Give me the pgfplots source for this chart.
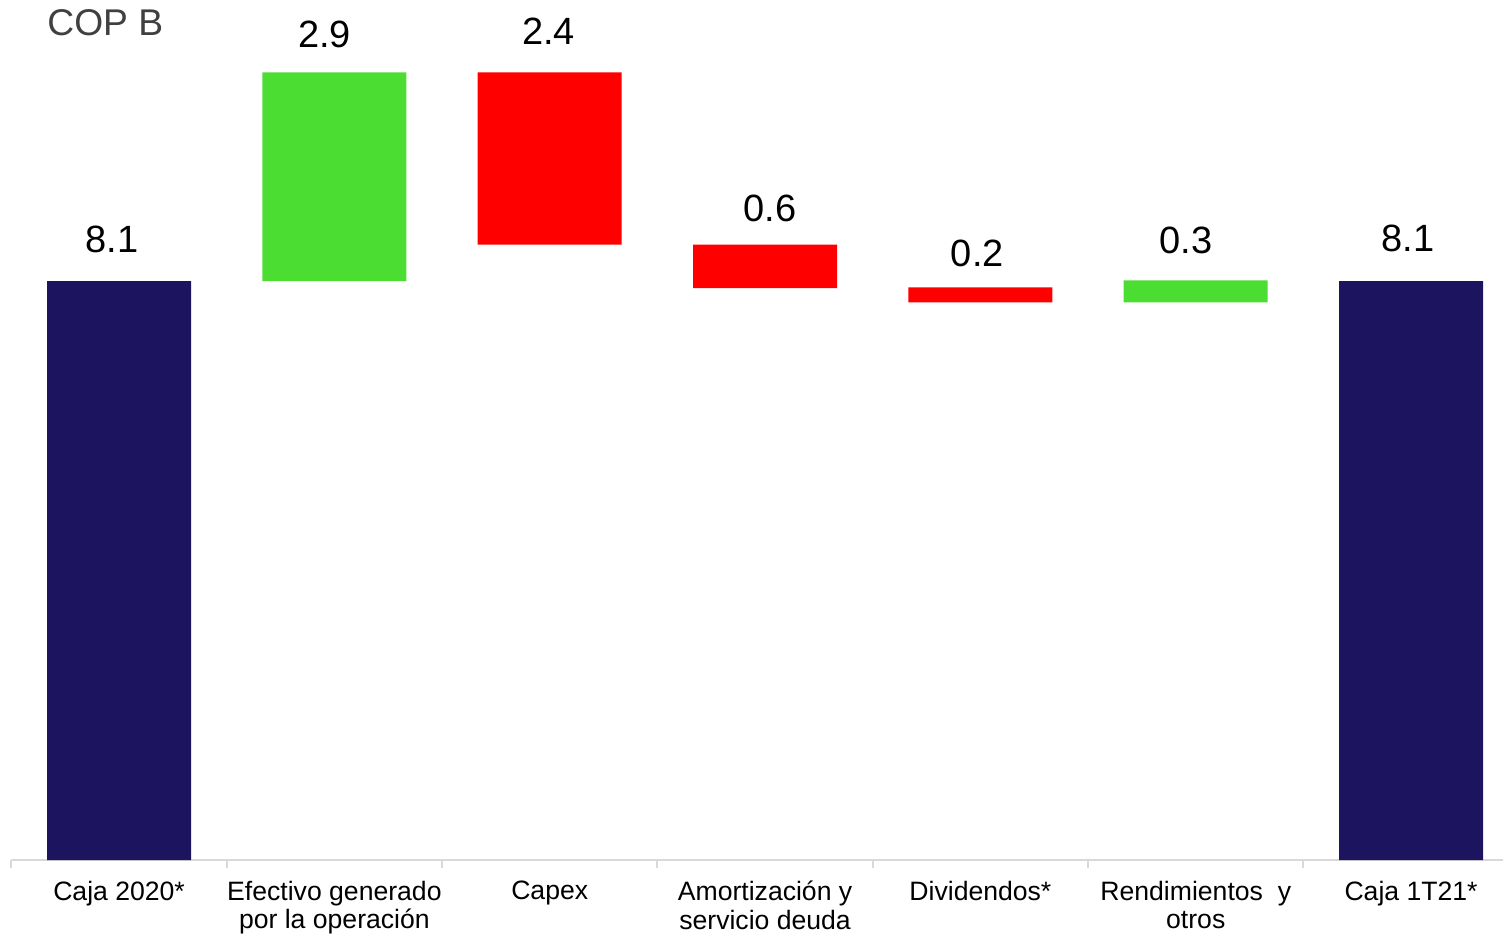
\documentclass[border=0pt]{standalone}
\usepackage{fontspec}
\setmainfont{Liberation Sans}
\usepackage{pgfplots}
\usepackage{pgfplotstable}
\pgfplotsset{compat=1.18}
\definecolor{cajablue}{RGB}{29,20,96}
\definecolor{upgreen}{RGB}{76,221,51}
\definecolor{downred}{RGB}{255,0,0}
\definecolor{axisgrey}{RGB}{217,217,217}
\definecolor{titlegrey}{RGB}{64,64,64}

% waterfall: invisible base + visible step
\pgfplotstableread{
x base caja up down
0 0    8.1 0    0
1 8.1  0   2.92 0
2 8.61 0   0    2.41
3 8.0  0   0    0.61
4 7.8  0   0    0.21
5 7.8  0   0.31 0
6 0    8.1 0    0
}\flujo

% label baselines as they sit in the chart
\pgfplotstableread{
x y label
-0.034 8.496 8.1
0.954 11.370 2.9
1.995 11.412 2.4
3.022 8.930 0.6
3.986 8.300 0.2
4.954 8.488 0.3
5.986 8.520 8.1
}\etiquetas

\pgfplotsset{
  base/.style={
    scale only axis,
    width=745.8pt, height=429pt,
    xmin=-0.5, xmax=6.427,
    ymin=0, ymax=12,
    clip=false,
    at={(0,0)}, anchor=south west,
  }
}

\begin{document}
\begin{tikzpicture}
\begin{axis}[
  base,
  ybar stacked, bar width=72pt,
  axis y line=none,
  axis x line*=bottom,
  axis line style={axisgrey, line width=1pt},
  xtick={0,...,6},
  xticklabels={Caja 2020*, Efectivo generado\\por la operación, Capex,
    Amortización y\\servicio deuda, Dividendos*, Rendimientos~~y\\otros, Caja 1T21*},
  major tick length=0pt,
  minor xtick={-0.5,0.5,...,5.5},
  minor tick length=4pt,
  tick align=outside,
  every tick/.style={axisgrey, line width=1pt},
  x tick label style={align=center, font=\fontsize{13.3}{14.2}\selectfont, yshift=-7pt},
]
\addplot[fill=none, draw=none, forget plot] table[x=x, y=base]{\flujo};
\addplot[fill=cajablue, draw=none] table[x=x, y=caja]{\flujo};
\addplot[fill=upgreen, draw=none] table[x=x, y=up]{\flujo};
\addplot[fill=downred, draw=none] table[x=x, y=down]{\flujo};
\node[anchor=base west, inner sep=0pt, text=titlegrey, font=\fontsize{18.6}{20}\selectfont,
  xshift=17.8pt, yshift=-16.9pt] at (rel axis cs:0,1) {COP B};
\end{axis}
\begin{axis}[base, hide axis]
\addplot[only marks, mark=none, point meta=explicit symbolic,
  nodes near coords={\pgfplotspointmeta},
  every node near coord/.append style={font=\fontsize{19}{20}\selectfont, text=black,
    anchor=base, inner sep=0pt}]
  table[x=x, y=y, meta=label]{\etiquetas};
\end{axis}
\pgfresetboundingbox
\path (-5.7pt,-38pt) rectangle (745.8pt,430.1pt);
\end{tikzpicture}
\end{document}
